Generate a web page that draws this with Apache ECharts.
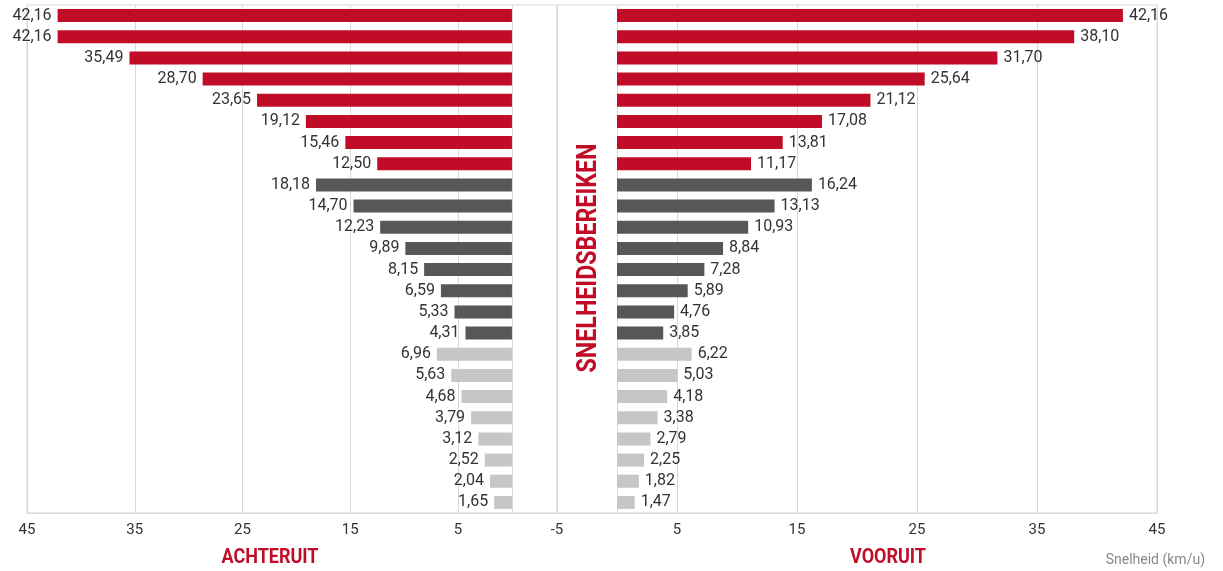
<!DOCTYPE html>
<html>
<head>
<meta charset="utf-8">
<script src="https://cdn.jsdelivr.net/npm/echarts@6/dist/echarts.min.js"></script>
<style>
  html, body { margin: 0; padding: 0; background: #fff; }
  #chart { width: 1223px; height: 571px; }
</style>
</head>
<body>
<div id="chart"></div>
<script>
// one row per speed range, top to bottom
const rows = ['1', '2', '3', '4', '5', '6', '7', '8', '9', '10', '11', '12',
    '13', '14', '15', '16', '17', '18', '19', '20', '21', '22', '23', '24'];
const groups = ['hoog', 'hoog', 'hoog', 'hoog', 'hoog', 'hoog', 'hoog', 'hoog',
    'midden', 'midden', 'midden', 'midden', 'midden', 'midden', 'midden', 'midden',
    'laag', 'laag', 'laag', 'laag', 'laag', 'laag', 'laag', 'laag'];
const achteruit = [42.16, 42.16, 35.49, 28.70, 23.65, 19.12, 15.46, 12.50,
    18.18, 14.70, 12.23, 9.89, 8.15, 6.59, 5.33, 4.31,
    6.96, 5.63, 4.68, 3.79, 3.12, 2.52, 2.04, 1.65];
const vooruit = [42.16, 38.10, 31.70, 25.64, 21.12, 17.08, 13.81, 11.17,
    16.24, 13.13, 10.93, 8.84, 7.28, 5.89, 4.76, 3.85,
    6.22, 5.03, 4.18, 3.38, 2.79, 2.25, 1.82, 1.47];
const leftTicks = [5, 15, 25, 35, 45];
const rightTicks = [-5, 5, 15, 25, 35, 45];

const groupColor = { hoog: '#c00c26', midden: '#575757', laag: '#c6c6c6' };
const red = '#c00c26';
const lineColor = '#d9d9d9';
const fmt = v => v.toFixed(2).replace('.', ',');

function bars(values) {
    return values.map((v, i) => ({ value: v, itemStyle: { color: groupColor[groups[i]] } }));
}

const chart = echarts.init(document.getElementById('chart'), null, { renderer: 'canvas' });

const axisCommon = {
    type: 'value',
    axisLine: { show: true, lineStyle: { color: lineColor, width: 1 } },
    axisTick: { show: false },
    splitLine: { show: true, lineStyle: { color: lineColor, width: 1 } },
    axisLabel: { color: '#333', fontSize: 15, fontFamily: 'Roboto', margin: 10 }
};

chart.setOption({
    animation: false,
    grid: [
        { left: 27, width: 530, top: 5, height: 508, show: true, borderColor: lineColor, borderWidth: 1 },
        { left: 557, width: 600, top: 5, height: 508, show: true, borderColor: lineColor, borderWidth: 1 }
    ],
    xAxis: [
        Object.assign({}, axisCommon, {
            gridIndex: 0, inverse: true, min: -4.18, max: 45,
            axisLabel: Object.assign({}, axisCommon.axisLabel, { customValues: leftTicks }),
            axisTick: { show: false, customValues: [0].concat(leftTicks) }
        }),
        Object.assign({}, axisCommon, {
            gridIndex: 1, min: -5, max: 45,
            axisLabel: Object.assign({}, axisCommon.axisLabel, { customValues: rightTicks }),
            axisTick: { show: false, customValues: [-5, 0].concat(leftTicks) }
        })
    ],
    yAxis: [
        { type: 'category', gridIndex: 0, data: rows, inverse: true, show: false },
        { type: 'category', gridIndex: 1, data: rows, inverse: true, show: false }
    ],
    series: [
        {
            name: 'Achteruit', type: 'bar', xAxisIndex: 0, yAxisIndex: 0,
            barWidth: 13, data: bars(achteruit),
            label: { show: true, position: 'left', distance: 6, formatter: p => fmt(p.value),
                color: '#333', fontSize: 16, fontFamily: 'Roboto' }
        },
        {
            name: 'Vooruit', type: 'bar', xAxisIndex: 1, yAxisIndex: 1,
            barWidth: 13, data: bars(vooruit),
            label: { show: true, position: 'right', distance: 6, formatter: p => fmt(p.value),
                color: '#333', fontSize: 16, fontFamily: 'Roboto' }
        }
    ],
    // condensed headings: no narrow font installed, so squeeze Roboto bold
    graphic: [
        { type: 'text', x: 270, y: 558, scaleX: 0.9,
          style: { text: 'ACHTERUIT', fill: red, align: 'center', verticalAlign: 'middle', font: 'bold 20px Roboto' } },
        { type: 'text', x: 888, y: 558, scaleX: 0.9,
          style: { text: 'VOORUIT', fill: red, align: 'center', verticalAlign: 'middle', font: 'bold 20px Roboto' } },
        { type: 'text', right: 18, top: 553,
          style: { text: 'Snelheid (km/u)', fill: '#888', font: '14px Roboto' } },
        { type: 'text', x: 589, y: 258, rotation: Math.PI / 2, scaleX: 0.83,
          style: { text: 'SNELHEIDSBEREIKEN', fill: red, align: 'center', verticalAlign: 'middle',
              font: 'bold 28px Roboto' } }
    ]
});
</script>
</body>
</html>
